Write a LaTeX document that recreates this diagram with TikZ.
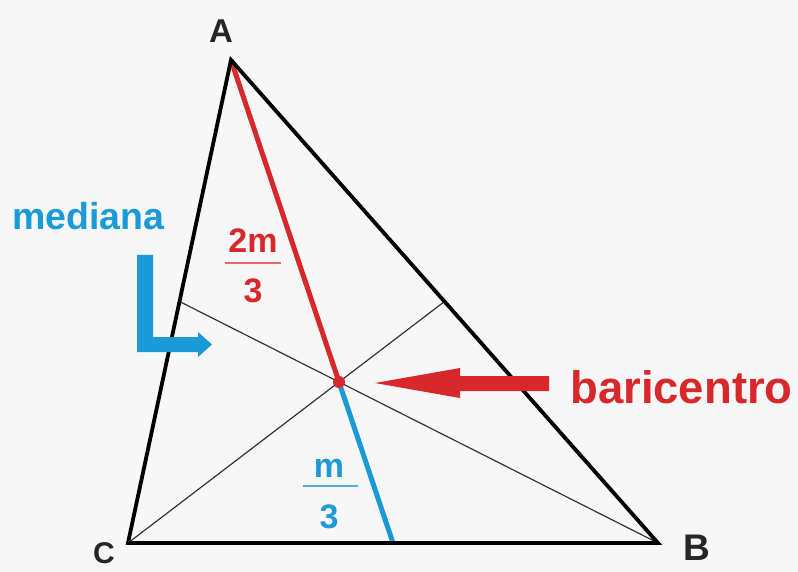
\documentclass[tikz,border=0pt]{standalone}
\usepackage{fontspec}
\setmainfont{Liberation Sans}
\usetikzlibrary{calc}
\definecolor{myred}{HTML}{D8282C}
\definecolor{myblue}{HTML}{1A9BD7}
\definecolor{bg}{HTML}{F7F7F7}
\tikzset{
  side/.style={line width=3.8pt,line join=miter,black},
  thinmed/.style={line width=1.2pt,black!80},
  lbl/.style={font=\bfseries\fontsize{34}{34}\selectfont,inner sep=0pt},
  fracbar/.style={line width=1.6pt}
}
\begin{document}
\begin{tikzpicture}[x=1pt,y=-1pt]
\fill[bg] (0,0) rectangle (798,572);
\useasboundingbox (0,0) rectangle (798,572);
\coordinate (A) at (231,60);
\coordinate (B) at (658,543);
\coordinate (C) at (128,543);
\coordinate (Mcb) at ($(C)!0.5!(B)$);
\coordinate (Mac) at ($(A)!0.5!(C)$);
\coordinate (Mab) at ($(A)!0.5!(B)$);
\coordinate (G) at ($(A)!2/3!(Mcb)$);
% thin medians
\draw[thinmed] (B) -- (Mac);
\draw[thinmed] (C) -- (Mab);
% coloured median
\draw[myred,line width=5pt] (A) -- (G);
\draw[myblue,line width=5pt] (G) -- (Mcb);
% triangle
\draw[side] (A) -- (B) -- (C) -- cycle;
\fill[myred] (G) circle (6pt);
% vertex labels
\node[lbl,font=\bfseries\fontsize{33}{33}\selectfont,black!85] (la) at (221,31) {A};
\node[lbl,font=\bfseries\fontsize{37}{37}\selectfont,black!85] (lb) at (697,548) {B};
\node[lbl,font=\bfseries\fontsize{30}{30}\selectfont,black!85] (lc) at (104,553) {C};
% mediana label and L-arrow
\node[lbl,myblue,font=\bfseries\fontsize{37.5}{37.5}\selectfont,anchor=base west] (med) at (12,230) {mediana};
\coordinate (l0) at (137,255);
\fill[myblue] (l0) -- ++(16,0) -- ++(0,82) -- ++(45,0) -- ++(0,-5)
  -- ++(14,12.5) -- ++(-14,12.5) -- ++(0,-5) -- ++(-61,0) -- cycle;
% 2m/3
\node[lbl,myred,anchor=base] (num1) at (253,253) {2m};
\node[lbl,myred,anchor=base] (den1) at (253,302) {3};
\draw[fracbar,myred!70] (225,263) -- (281,263);
% m/3
\node[lbl,myblue,anchor=base] (num2) at (329,477) {m};
\node[lbl,myblue,anchor=base] (den2) at (329,528) {3};
\draw[fracbar,myblue!80] (303,486) -- (358,486);
% baricentro
\node[lbl,myred,font=\bfseries\fontsize{45.5}{45.5}\selectfont,anchor=base west] (bar) at (570,403) {baricentro};
\coordinate (tip) at (375,383);
\fill[myred] (tip) -- ++(85,-15) -- ++(0,8) -- ++(89,0) -- ++(0,15) -- ++(-89,0)
  -- ++(0,7) -- cycle;
\end{tikzpicture}
\end{document}
